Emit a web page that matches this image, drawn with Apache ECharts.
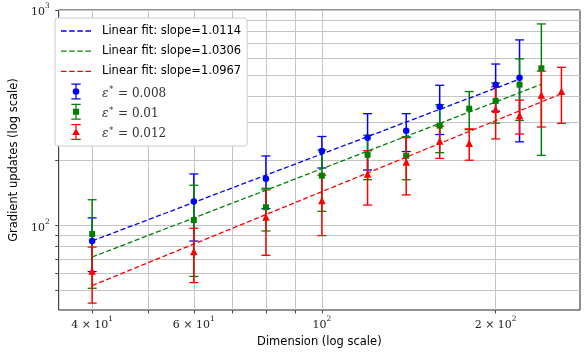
<!DOCTYPE html>
<html><head><meta charset="utf-8">
<script src="https://cdn.jsdelivr.net/npm/echarts@6/dist/echarts.min.js"></script>
<style>html,body{margin:0;padding:0;background:#fff}#c{width:586px;height:353px}</style>
</head><body><div id="c"></div>
<script>
// ---- data ----
const blueX = [40, 60, 80, 100, 120, 140, 160, 200, 220];
const blueY = [84.9, 129.2, 165.1, 222, 255.8, 275.6, 356, 450.6, 485.6];
const blueErr = [23.7, 44.4, 45.3, 37, 74.7, 55, 91.5, 111, 241];

const greenX = [40, 60, 80, 100, 120, 140, 160, 180, 200, 220, 240];
const greenY = [91.5, 106, 121.7, 170.5, 213, 210.8, 290.8, 348.6, 378.7, 450.6, 536.6];
const greenErr = [40.3, 47.9, 27.3, 54, 49.7, 47.6, 73, 70, 80, 143, 325];

const redX = [40, 60, 80, 100, 120, 140, 160, 180, 200, 220, 240, 260];
const redY = [61.6, 75.8, 109.6, 130.6, 173.5, 197.3, 247, 241, 346.4, 324, 403.6, 420];
const redErr = [17.9, 21.4, 36.8, 40.7, 49, 58.5, 42, 40, 94, 58, 117, 122];

const fitBlueX = [40, 220];
const fitBlueY = [84.9, 478];
const fitGreenX = [40, 240];
const fitGreenY = [71.5, 452];
const fitRedX = [40, 260];
const fitRedY = [52.7, 409];

const fitNames = ['Linear fit: slope=1.0114', 'Linear fit: slope=1.0306', 'Linear fit: slope=1.0967'];
const epsNames = ['ε* = 0.008', 'ε* = 0.01', 'ε* = 0.012'];

const xLabelValues = [40, 60, 100, 200];
const xLabelMant = ['4 × ', '6 × ', '', '2 × '];
const xLabelExp = ['1', '1', '2', '2'];
const yLabelValues = [100, 1000];
const yLabelExp = ['2', '3'];

const xGridValues = [40, 50, 60, 70, 80, 90, 100, 200];
const yGridValues = [50, 60, 70, 80, 90, 100, 200, 300, 400, 500, 600, 700, 800, 900, 1000];

// ---- build ----
const colors = ['#0000ff', '#008000', '#ff0000'];
const zip = (xs, ys) => xs.map((x, i) => [x, ys[i]]);
const zip3 = (xs, ys, es) => xs.map((x, i) => [x, ys[i], es[i]]);

function ebRender(color) {
  return function (params, api) {
    const x = api.value(0), y = api.value(1), e = api.value(2);
    const top = api.coord([x, y + e]);
    const bot = api.coord([x, y - e]);
    const hw = 4.5, bw = 1.5, ch = 1.3;
    const st = () => ({ fill: color, stroke: null, opacity: 1 });
    return {
      type: 'group', children: [
        { type: 'rect', shape: { x: top[0] - bw / 2, y: top[1], width: bw, height: bot[1] - top[1] }, style: st() },
        { type: 'rect', shape: { x: top[0] - hw, y: top[1] - ch / 2, width: 2 * hw, height: ch }, style: st() },
        { type: 'rect', shape: { x: bot[0] - hw, y: bot[1] - ch / 2, width: 2 * hw, height: ch }, style: st() }
      ]
    };
  };
}

const ebX = [blueX, greenX, redX], ebY = [blueY, greenY, redY], ebE = [blueErr, greenErr, redErr];
const fX = [fitBlueX, fitGreenX, fitRedX], fY = [fitBlueY, fitGreenY, fitRedY];
const symbols = ['circle', 'rect', 'triangle'];
const symSizes = [6.5, 6, 7.5];

const capPath = 'M0 0 H9 V1.2 H0 Z M3.9 0 H5.1 V15.4 H3.9 Z M0 14.2 H9 V15.4 H0 Z ';
const iconPaths = [
  'path://' + capPath + 'M7.7 7.7 A3.2 3.2 0 1 1 1.3 7.7 A3.2 3.2 0 1 1 7.7 7.7 Z',
  'path://' + capPath + 'M1.6 4.8 H7.4 V10.6 H1.6 Z',
  'path://' + capPath + 'M4.5 4.0 L8.2 10.6 L0.8 10.6 Z'
];
const dashIcon = 'path://M0 0 H5.5 V1.3 H0 Z M8 0 H13.5 V1.3 H8 Z M16 0 H21.5 V1.3 H16 Z M24 0 H29.5 V1.3 H24 Z';

const series = [];
// grid lines through the axes' own scales
series.push({
  type: 'scatter', name: 'grid', data: [[100, 100]], symbolSize: 0, silent: true, z: 0, zlevel: 0,
  markLine: {
    silent: true, symbol: ['none', 'none'], animation: false, z: 0,
    label: { show: false },
    lineStyle: { color: '#c4c4c4', width: 1, type: 'solid' },
    data: xGridValues.map(v => ({ xAxis: v })).concat(yGridValues.map(v => ({ yAxis: v })))
  }
});
for (let i = 0; i < 3; i++) {
  series.push({
    type: 'custom', name: 'eb' + i, renderItem: ebRender(colors[i]),
    itemStyle: { color: colors[i] },
    encode: { x: 0, y: 1 }, data: zip3(ebX[i], ebY[i], ebE[i]), z: 2 + i * 0.1, silent: true
  });
  series.push({
    type: 'scatter', name: epsNames[i], data: zip(ebX[i], ebY[i]),
    symbol: symbols[i], symbolSize: symSizes[i], itemStyle: { color: colors[i], opacity: 1 }, z: 3 + i * 0.1
  });
  series.push({
    type: 'line', name: fitNames[i], data: zip(fX[i], fY[i]), symbol: 'none', showSymbol: false,
    lineStyle: { color: colors[i], width: 1.3, type: [5, 2.6] }, itemStyle: { color: colors[i] }, z: 4
  });
}

const supRich = {
  n: { fontFamily: 'DejaVu Serif', fontSize: 11, color: '#222', lineHeight: 16, verticalAlign: 'bottom' },
  s: { fontFamily: 'DejaVu Serif', fontSize: 7.5, color: '#222', lineHeight: 10, verticalAlign: 'top' }
};

const option = {
  animation: false,
  backgroundColor: '#fff',
  grid: { left: 47, right: 6, top: 10, bottom: 43, show: true, borderColor: '#222', borderWidth: 1, backgroundColor: 'transparent' },
  xAxis: {
    type: 'log', logBase: 10, min: 35, max: 280,
    axisLine: { show: false }, splitLine: { show: false }, minorTick: { show: false },
    axisTick: { show: true, length: 3.5, customValues: xGridValues, lineStyle: { color: '#222', width: 0.8 } },
    axisLabel: {
      customValues: xLabelValues, margin: 5,
      formatter: function (v) {
        const i = xLabelValues.indexOf(Math.round(v));
        if (i < 0) return '';
        return '{n|' + xLabelMant[i] + '10}{s|' + xLabelExp[i] + '}';
      },
      rich: supRich
    },
    name: 'Dimension (log scale)', nameLocation: 'middle', nameGap: 21,
    nameTextStyle: { fontFamily: 'DejaVu Sans', fontSize: 11.5, color: '#000' }
  },
  yAxis: {
    type: 'log', logBase: 10, min: 40.6, max: 1000,
    axisLine: { show: false }, splitLine: { show: false }, minorTick: { show: false },
    axisTick: { show: true, length: 3.5, customValues: yGridValues, lineStyle: { color: '#222', width: 0.8 } },
    axisLabel: {
      customValues: yLabelValues, margin: 9,
      formatter: function (v) {
        const i = yLabelValues.indexOf(Math.round(v));
        if (i < 0) return '';
        return '{n|10}{s|' + yLabelExp[i] + '}';
      },
      rich: supRich
    },
    name: 'Gradient updates (log scale)', nameLocation: 'middle', nameGap: 27, nameRotate: 90,
    nameTextStyle: { fontFamily: 'DejaVu Sans', fontSize: 11.5, color: '#000' }
  },
  legend: {
    orient: 'vertical', left: 55, top: 18, z: 20, zlevel: 1,
    padding: [5, 6, 6, 6],
    backgroundColor: '#ffffff', borderColor: '#cccccc', borderWidth: 1, borderRadius: 3,
    itemWidth: 30, itemHeight: 16, itemGap: 4.2,
    symbolKeepAspect: true,
    data: fitNames.map((n, i) => ({ name: n, icon: dashIcon, itemStyle: { color: colors[i] } }))
      .concat(epsNames.map((n, i) => ({ name: n, icon: iconPaths[i], itemStyle: { color: colors[i] } }))),
    textStyle: {
      fontFamily: 'DejaVu Sans', fontSize: 11.5, color: '#000', lineHeight: 16, padding: [0, 0, 0, 6],
      rich: {
        e: { fontFamily: 'DejaVu Serif', fontStyle: 'italic', fontSize: 12, color: '#333', lineHeight: 16, verticalAlign: 'bottom' },
        m: { fontFamily: 'DejaVu Serif', fontSize: 12, color: '#333', lineHeight: 16, verticalAlign: 'bottom' },
        s: { fontFamily: 'DejaVu Serif', fontSize: 8.5, color: '#333', lineHeight: 11, verticalAlign: 'top' }
      }
    },
    formatter: function (name) {
      if (name.charAt(0) === 'ε') {
        const v = name.split('= ')[1];
        return '{e|ε}{s|∗}{m| = ' + v + '}';
      }
      return name;
    },
    selectedMode: false
  },
  series: series
};

const chart = echarts.init(document.getElementById('c'), null, { renderer: 'canvas' });
chart.setOption(option);
</script>
</body></html>
